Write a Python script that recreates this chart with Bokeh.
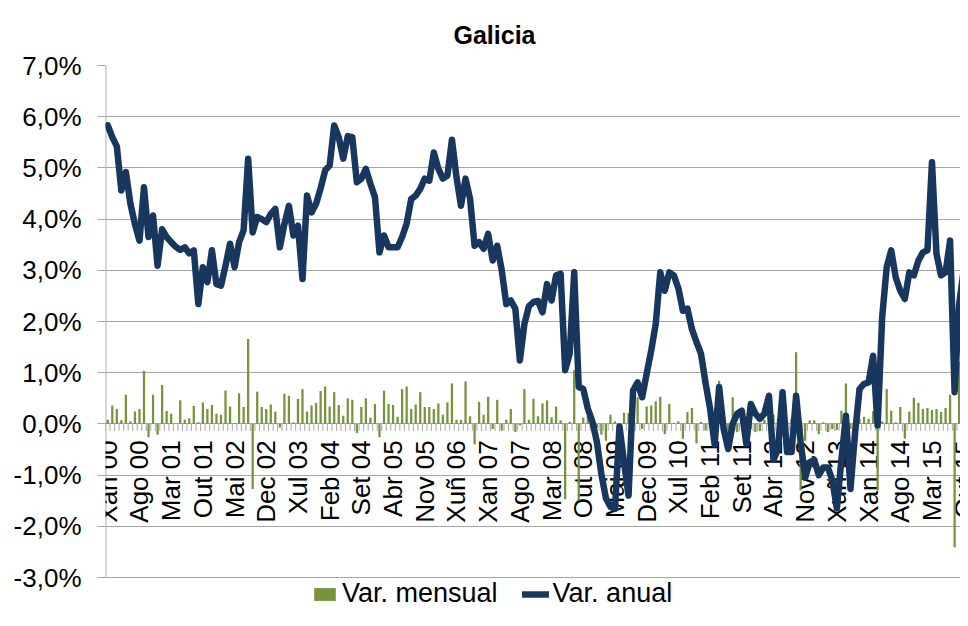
import numpy as np
from bokeh.plotting import figure
from bokeh.models import FixedTicker, Legend, LegendItem, ColumnDataSource, Grid
from bokeh.core.properties import value
from bokeh.embed import file_html
from bokeh.resources import INLINE

# ---------------- data ----------------
chart_title = "Galicia"
series_names = ["Var. mensual", "Var. anual"]

# monthly variation (%), Xan 00 ... Dec 15
var_mensual = [
    0.08, 0.36, 0.29, 0.07, 0.57, 0.05, 0.24, 0.29, 1.04, -0.26, 0.57, -0.21,
    0.76, 0.25, 0.20, 0.01, 0.46, 0.08, 0.11, 0.35, 0.03, 0.42, 0.29, 0.37,
    0.20, 0.18, 0.65, 0.34, 0.02, 0.60, 0.33, 1.66, -1.27, 0.63, 0.33, 0.29,
    0.38, 0.24, -0.07, 0.59, 0.55, 0.03, 0.49, 0.68, 0.24, 0.36, 0.41, 0.64,
    0.73, 0.34, 0.62, 0.37, 0.16, 0.50, 0.47, -0.18, 0.33, 0.50, 0.12, 0.39,
    -0.26, 0.65, 0.39, 0.37, 0.14, 0.68, 0.73, 0.29, 0.38, 0.62, 0.33, 0.33,
    0.29, 0.40, 0.18, 0.42, 0.79, 0.08, 0.08, 0.83, 0.15, -0.40, 0.43, 0.18,
    0.53, -0.10, 0.47, -0.13, 0.08, 0.29, -0.16, -0.03, 0.68, 0.08, 0.49, 0.15,
    0.40, 0.46, 0.13, 0.34, 0.07, -1.47, 0.04, 1.05, -1.50, 0.12, 0.16, 0.02,
    -0.08, -0.21, -0.33, 0.18, 0.05, -0.04, 0.22, 0.21, 0.03, 0.52, -0.10, 0.34,
    0.36, 0.44, 0.53, -0.20, 0.39, 0.02, 0.05, -0.29, 0.23, 0.31, -0.38, 0.04,
    -0.13, 0.10, -0.12, 0.84, 0.25, -0.15, 0.52, -0.16, 0.08, 0.12, -0.10, -0.16,
    -0.14, 0.08, 0.05, 0.18, 0.10, 0.66, 0.04, 0.10, 1.40, -1.30, -0.33, 0.07,
    0.07, -0.20, 0.03, -0.16, -0.10, -0.12, 0.26, 0.79, -0.10, 0.05, 0.10, 0.14,
    0.10, 0.25, -1.30, 0.05, 0.68, 0.26, 0.03, 0.33, -0.29, 0.24, 0.51, 0.41,
    0.29, 0.31, 0.27, 0.29, 0.23, 0.31, 0.57, -2.41, 1.22, 1.07, 0.26, 0.30,
]

# annual variation (%)
var_anual = [
    5.83, 5.60, 5.42, 4.56, 4.92, 4.30, 3.90, 3.58, 4.62, 3.65, 4.07, 3.09,
    3.80, 3.65, 3.55, 3.46, 3.40, 3.45, 3.33, 3.39, 2.34, 3.06, 2.77, 3.39,
    2.73, 2.70, 3.09, 3.52, 3.06, 3.55, 3.78, 5.18, 3.74, 4.04, 4.00, 3.94,
    4.10, 4.20, 3.45, 3.90, 4.26, 3.68, 3.87, 2.83, 4.46, 4.13, 4.30, 4.60,
    4.95, 5.05, 5.83, 5.60, 5.18, 5.62, 5.60, 4.72, 4.79, 4.98, 4.69, 4.43,
    3.35, 3.68, 3.45, 3.45, 3.45, 3.65, 3.91, 4.39, 4.46, 4.59, 4.79, 4.75,
    5.30, 4.98, 4.79, 4.85, 5.55, 4.82, 4.26, 4.79, 4.40, 3.48, 3.55, 3.42,
    3.71, 3.19, 3.48, 3.00, 2.34, 2.41, 2.25, 1.24, 1.95, 2.30, 2.38, 2.40,
    2.18, 2.73, 2.41, 2.90, 2.93, 1.05, 1.37, 2.96, 0.72, 0.68, 0.30, 0.05,
    -0.35, -0.98, -1.45, -1.62, -1.66, -0.05, -0.75, -1.40, 0.65, 0.81, 0.52, 0.98,
    1.43, 1.95, 2.96, 2.60, 2.96, 2.90, 2.65, 2.21, 2.25, 1.85, 1.60, 1.37,
    0.80, 0.30, -0.40, 0.72, -0.10, -0.49, 0.00, 0.20, 0.26, -0.39, 0.39, 0.20,
    0.10, 0.20, 0.55, -0.70, -0.50, 0.62, -0.55, -0.55, 0.55, -0.35, -1.05, -0.75,
    -0.70, -1.00, -0.85, -0.85, -1.10, -1.65, -0.70, 0.16, -1.27, -0.20, 0.68, 0.78,
    0.81, 1.33, -0.03, 2.08, 3.06, 3.39, 2.86, 2.60, 2.44, 2.96, 2.90, 3.19,
    3.35, 3.39, 5.11, 3.32, 2.90, 2.96, 3.58, 0.62, 2.34, 3.00, 2.80, 2.80,
]

# category tick labels (one every 7 months starting Xan 00)
x_tick_labels = [
    "Xan 00", "Ago 00", "Mar 01", "Out 01", "Mai 02", "Dec 02", "Xul 03",
    "Feb 04", "Set 04", "Abr 05", "Nov 05", "Xuñ 06", "Xan 07", "Ago 07",
    "Mar 08", "Out 08", "Mai 09", "Dec 09", "Xul 10", "Feb 11", "Set 11",
    "Abr 12", "Nov 12", "Xuñ 13", "Xan 14", "Ago 14", "Mar 15", "Out 15",
]
label_step = 7

y_ticks = [-3, -2, -1, 0, 1, 2, 3, 4, 5, 6, 7]
y_tick_labels = ["-3,0%", "-2,0%", "-1,0%", "0,0%", "1,0%", "2,0%",
                 "3,0%", "4,0%", "5,0%", "6,0%", "7,0%"]

# ---------------- styling ----------------
FONT = "Liberation Sans"
BAR_COLOR = "#77933C"
LINE_COLOR = "#17375E"
GRID_COLOR = "#a6a6a6"

n = len(var_mensual)
xs = list(range(n))

# the frame reaches the bottom of the figure so the legend can sit inside it
y_bottom = -3 - 33 / 51.2
p = figure(width=960, height=610,
           x_range=(-0.5, 188.3), y_range=(y_bottom, 7),
           output_backend="svg", toolbar_location=None,
           x_axis_location=None,
           min_border_left=105, min_border_right=0,
           min_border_top=65, min_border_bottom=0)
p.outline_line_color = None
p.background_fill_color = "white"
for g in p.center:
    if isinstance(g, Grid) and g.dimension == 0:
        g.visible = False

# title
p.title.text = chart_title
p.title.text_font = FONT
p.title.text_font_size = "25px"
p.title.text_font_style = "bold"
p.title.text_color = "black"
p.title.align = "left"
p.title.offset = 348
p.title.standoff = 33

# y axis
ticker = FixedTicker(ticks=y_ticks)
p.yaxis.ticker = ticker
p.yaxis.major_label_overrides = {t: l for t, l in zip(y_ticks, y_tick_labels)}
p.yaxis.major_label_text_font = FONT
p.yaxis.major_label_text_font_size = "26px"
p.yaxis.major_label_text_color = "black"
p.yaxis.axis_line_color = None
p.yaxis.major_tick_line_color = GRID_COLOR
p.yaxis.major_tick_out = 8
p.yaxis.major_tick_in = 0
p.yaxis.minor_tick_line_color = None
p.yaxis.major_label_standoff = 16
p.ygrid.ticker = ticker
p.ygrid.grid_line_color = GRID_COLOR
p.ygrid.grid_line_width = 1.2

# vertical axis line from -3 % to 7 %
p.segment(x0=[-0.45], y0=[y_ticks[0]], x1=[-0.45], y1=[y_ticks[-1]],
          line_color=GRID_COLOR, line_width=1.4)

# category tick marks along the zero line
tick_px = 7.0 / 51.2
tick_x = [i - 0.5 for i in range(n + 1)]
p.segment(x0=tick_x, y0=[0] * len(tick_x), x1=tick_x, y1=[-tick_px] * len(tick_x),
          line_color=GRID_COLOR, line_width=1)

# category labels (rotated)
label_x = list(range(0, n, label_step))[:len(x_tick_labels)]
p.text(x=label_x, y=[-0.32] * len(label_x), text=x_tick_labels,
       angle=np.pi / 2, text_align="right", text_baseline="middle",
       text_font=value(FONT), text_font_size="26px", text_color="black")

src = ColumnDataSource(dict(x=xs, m=var_mensual, a=var_anual))
bars = p.vbar(x="x", top="m", bottom=0, width=0.5, source=src,
              fill_color=BAR_COLOR, line_color=None)
line = p.line(x="x", y="a", source=src, line_color=LINE_COLOR, line_width=6.5,
              line_join="round", line_cap="round")

legend = Legend(items=[LegendItem(label=series_names[0], renderers=[bars]),
                       LegendItem(label=series_names[1], renderers=[line])],
                orientation="horizontal", location=(206, 1),
                label_text_font=FONT, label_text_font_size="27px",
                label_text_color="black",
                glyph_width=27, glyph_height=16, label_standoff=4,
                spacing=24, padding=0, margin=0,
                border_line_color=None, background_fill_alpha=0)
p.add_layout(legend)

open("out.html", "w").write(file_html(p, INLINE))
